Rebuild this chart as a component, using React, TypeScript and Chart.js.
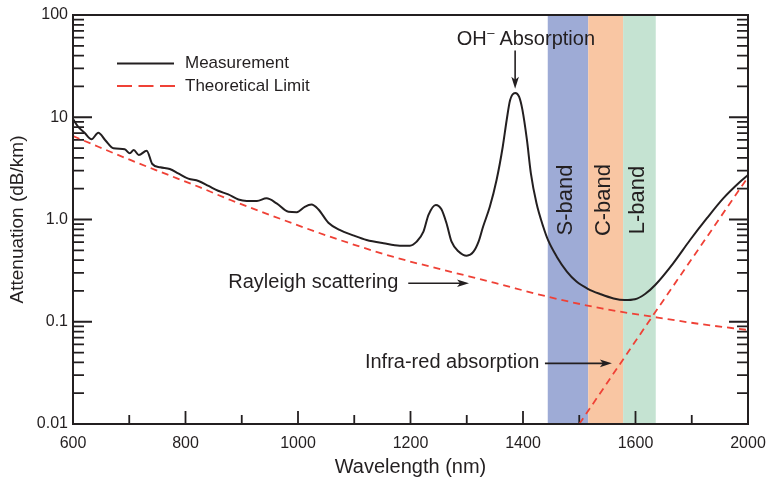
import { useEffect, useRef } from "react";
import { Chart, registerables } from "chart.js";

Chart.register(...registerables);

// ---------- data ----------
const measWavelength = [
  600, 609, 621, 633, 645, 657, 672, 692, 701, 708, 717, 731, 741, 755, 772, 787, 805, 823, 841, 858,
  876, 894, 909, 927, 944, 962, 983, 998, 1012, 1024, 1036, 1054, 1074, 1098, 1122, 1152, 1181, 1199,
  1211, 1223, 1232, 1245, 1255, 1264, 1273, 1285, 1300, 1312, 1321, 1329, 1341, 1353, 1364, 1371, 1377,
  1386, 1393, 1399, 1407, 1414, 1424, 1436, 1445, 1460, 1478, 1495, 1516, 1537, 1561, 1581, 1599, 1617,
  1635, 1667, 1697, 1727, 1756, 1786, 1800,
];
const measAttenuation = [
  9.6, 8.1, 7.0, 6.1, 7.05, 6.0, 4.97, 4.86, 4.44, 4.78, 4.27, 4.71, 3.49, 3.24, 3.12, 2.83, 2.51, 2.38,
  2.13, 1.91, 1.76, 1.57, 1.52, 1.52, 1.61, 1.44, 1.19, 1.18, 1.33, 1.4, 1.26, 0.93, 0.79, 0.7, 0.63,
  0.585, 0.555, 0.555, 0.607, 0.76, 1.11, 1.39, 1.26, 0.92, 0.607, 0.49, 0.443, 0.484, 0.607, 0.85, 1.33,
  2.43, 5.15, 9.4, 14.7, 17.3, 15.9, 11.8, 6.0, 2.83, 1.44, 0.85, 0.62, 0.433, 0.309, 0.247, 0.209, 0.187,
  0.169, 0.163, 0.166, 0.187, 0.229, 0.373, 0.63, 1.03, 1.61, 2.34, 2.72,
];
const rayleighWavelength = [600, 645, 705, 765, 825, 880, 935, 1050, 1170, 1260, 1350, 1440, 1540, 1630, 1715, 1800];
const rayleighAttenuation = [6.55, 5.15, 3.76, 2.79, 2.07, 1.55, 1.19, 0.7, 0.43, 0.32, 0.24, 0.178, 0.135, 0.112, 0.095, 0.083];
const irWavelength = [1500, 1630, 1800];
const irAttenuation = [0.01, 0.113, 2.6];

const xTickValues = [600, 800, 1000, 1200, 1400, 1600, 1800];
const xTickLabels = ["600", "800", "1000", "1200", "1400", "1600", "2000"];
const xMinorTicks = [700, 900, 1100, 1300, 1500, 1700];
const yTickValues = [0.01, 0.1, 1, 10, 100];
const yTickLabels = ["0.01", "0.1", "1.0", "10", "100"];

const bandNames = ["S-band", "C-band", "L-band"];
const bandStart = [1444, 1516, 1578];
const bandEnd = [1516, 1578, 1636];
const bandColors = ["#9eabd6", "#f9c6a3", "#c5e3d2"];

// ---------- style ----------
const FONT = "'Liberation Sans', Arial, Helvetica, sans-serif";
const INK = "#231f20";
const RED = "#ef4136";

function arrow(ctx: CanvasRenderingContext2D, x0: number, y0: number, x1: number, y1: number) {
  const ang = Math.atan2(y1 - y0, x1 - x0);
  const c = Math.cos(ang), s = Math.sin(ang);
  const hl = 12, hw = 3.8;
  ctx.beginPath();
  ctx.moveTo(x0, y0);
  ctx.lineTo(x1 - hl * 0.7 * c, y1 - hl * 0.7 * s);
  ctx.stroke();
  ctx.beginPath();
  ctx.moveTo(x1, y1);
  ctx.lineTo(x1 - hl * c + hw * s, y1 - hl * s - hw * c);
  ctx.lineTo(x1 - hl * 0.75 * c, y1 - hl * 0.75 * s);
  ctx.lineTo(x1 - hl * c - hw * s, y1 - hl * s + hw * c);
  ctx.closePath();
  ctx.fill();
}

const decor = {
  id: "decor",
  beforeDatasetsDraw(chart: any) {
    const { ctx, chartArea: a, scales } = chart;
    const x = scales.x, y = scales.y;
    ctx.save();
    bandStart.forEach((s, i) => {
      const x0 = x.getPixelForValue(s);
      const x1 = x.getPixelForValue(bandEnd[i]);
      ctx.fillStyle = bandColors[i];
      ctx.fillRect(x0, a.top, x1 - x0, a.bottom - a.top);
    });
    ctx.strokeStyle = INK;
    ctx.lineWidth = 1.8;
    ctx.beginPath();
    xTickValues.forEach((v) => {
      if (v <= 600 || v >= 1800) return;
      const px = x.getPixelForValue(v);
      ctx.moveTo(px, a.bottom);
      ctx.lineTo(px, a.bottom - 13);
    });
    xMinorTicks.forEach((v) => {
      const px = x.getPixelForValue(v);
      ctx.moveTo(px, a.bottom);
      ctx.lineTo(px, a.bottom - 9);
    });
    for (let d = 0.01; d < 200; d *= 10) {
      for (let k = 1; k <= 9; k++) {
        const v = d * k;
        if (v > 100.0001) break;
        const py = y.getPixelForValue(v);
        const len = k === 1 ? 19 : 11;
        ctx.moveTo(a.left, py);
        ctx.lineTo(a.left + len, py);
        ctx.moveTo(a.right, py);
        ctx.lineTo(a.right - len, py);
      }
    }
    ctx.stroke();
    ctx.restore();
  },
  afterDatasetsDraw(chart: any) {
    const { ctx, chartArea: a, scales } = chart;
    const x = scales.x, y = scales.y;
    ctx.save();
    // frame
    ctx.strokeStyle = INK;
    ctx.lineWidth = 2;
    ctx.strokeRect(a.left, a.top, a.right - a.left, a.bottom - a.top);

    // legend
    const lx = a.left + 44;
    const ly1 = a.top + 48.5;
    const ly2 = a.top + 71;
    ctx.lineWidth = 2;
    ctx.strokeStyle = INK;
    ctx.beginPath();
    ctx.moveTo(lx, ly1);
    ctx.lineTo(lx + 57, ly1);
    ctx.stroke();
    ctx.strokeStyle = RED;
    ctx.setLineDash([15, 6.5]);
    ctx.beginPath();
    ctx.moveTo(lx, ly2);
    ctx.lineTo(lx + 58, ly2);
    ctx.stroke();
    ctx.setLineDash([]);
    ctx.fillStyle = INK;
    ctx.font = `17px ${FONT}`;
    ctx.textAlign = "left";
    ctx.textBaseline = "middle";
    ctx.fillText("Measurement", lx + 68, ly1);
    ctx.fillText("Theoretical Limit", lx + 68, ly2);

    // band labels
    ctx.font = `22px ${FONT}`;
    ctx.textAlign = "center";
    ctx.textBaseline = "middle";
    bandNames.forEach((name, i) => {
      const cx = (x.getPixelForValue(bandStart[i]) + x.getPixelForValue(bandEnd[i])) / 2 - 2;
      const cy = y.getPixelForValue(1.55);
      ctx.save();
      ctx.translate(cx, cy);
      ctx.rotate(-Math.PI / 2);
      ctx.fillText(name, 0, 0);
      ctx.restore();
    });

    // annotations
    ctx.strokeStyle = INK;
    ctx.fillStyle = INK;
    ctx.lineWidth = 1.6;
    ctx.font = `20px ${FONT}`;
    ctx.textAlign = "left";
    ctx.textBaseline = "alphabetic";

    // OH- absorption
    const ohX = x.getPixelForValue(1386);
    const ohLeft = x.getPixelForValue(1378) - 54;
    const ohBase = y.getPixelForValue(51);
    ctx.fillText("OH", ohLeft, ohBase);
    const ohW = ctx.measureText("OH").width;
    ctx.font = `13px ${FONT}`;
    ctx.fillText("\u2013", ohLeft + ohW + 0.5, ohBase - 8);
    const supW = ctx.measureText("\u2013").width;
    ctx.font = `20px ${FONT}`;
    ctx.fillText(" Absorption", ohLeft + ohW + supW, ohBase);
    arrow(ctx, ohX, y.getPixelForValue(45), ohX, y.getPixelForValue(19));

    // Rayleigh scattering
    ctx.fillText("Rayleigh scattering", x.getPixelForValue(876), y.getPixelForValue(0.215));
    arrow(ctx, x.getPixelForValue(1196), y.getPixelForValue(0.238), x.getPixelForValue(1304), y.getPixelForValue(0.238));

    // Infra-red absorption
    ctx.fillText("Infra-red absorption", x.getPixelForValue(1119), y.getPixelForValue(0.035));
    arrow(ctx, x.getPixelForValue(1439), y.getPixelForValue(0.0392), x.getPixelForValue(1558), y.getPixelForValue(0.0392));

    ctx.restore();
  },
};

export default function App() {
  const ref = useRef<HTMLCanvasElement | null>(null);
  useEffect(() => {
    if (!ref.current) return;
    const chart = new Chart(ref.current, {
      type: "line",
      data: {
        datasets: [
          {
            label: "Measurement",
            data: measWavelength.map((w, i) => ({ x: w, y: measAttenuation[i] })),
            borderColor: INK,
            borderWidth: 2,
            pointRadius: 0,
            cubicInterpolationMode: "monotone",
            fill: false,
          },
          {
            label: "Theoretical Limit",
            data: rayleighWavelength.map((w, i) => ({ x: w, y: rayleighAttenuation[i] })),
            borderColor: RED,
            borderWidth: 1.8,
            borderDash: [7, 5],
            pointRadius: 0,
            cubicInterpolationMode: "monotone",
            fill: false,
          },
          {
            label: "Infra-red absorption",
            data: irWavelength.map((w, i) => ({ x: w, y: irAttenuation[i] })),
            borderColor: RED,
            borderWidth: 1.8,
            borderDash: [7, 5],
            pointRadius: 0,
            tension: 0,
            fill: false,
          },
        ],
      },
      options: {
        responsive: false,
        animation: false,
        layout: { padding: { top: 15, right: 18, left: 0, bottom: 0 } },
        plugins: { legend: { display: false }, tooltip: { enabled: false } },
        scales: {
          x: {
            type: "linear",
            min: 600,
            max: 1800,
            afterBuildTicks: (s: any) => {
              s.ticks = xTickValues.map((v) => ({ value: v }));
            },
            afterFit: (s: any) => {
              s.height = 57;
              s.paddingLeft = 0;
              s.paddingRight = 0;
            },
            grid: { display: false, drawTicks: false },
            border: { display: false },
            ticks: {
              autoSkip: false,
              maxRotation: 0,
              padding: 10,
              color: INK,
              font: { family: FONT, size: 16 },
              callback: (_v: any, i: number) => xTickLabels[i],
            },
            title: {
              display: true,
              text: "Wavelength (nm)",
              color: INK,
              font: { family: FONT, size: 20 },
              padding: { top: 0, bottom: 2 },
            },
          },
          y: {
            type: "logarithmic",
            min: 0.01,
            max: 100,
            afterBuildTicks: (s: any) => {
              s.ticks = yTickValues.map((v) => ({ value: v }));
            },
            afterFit: (s: any) => {
              s.width = 73;
              s.paddingTop = 0;
              s.paddingBottom = 0;
            },
            grid: { display: false, drawTicks: false },
            border: { display: false },
            ticks: {
              autoSkip: false,
              padding: 5,
              color: INK,
              font: { family: FONT, size: 16 },
              callback: (_v: any, i: number) => yTickLabels[i],
            },
            title: {
              display: true,
              text: "Attenuation (dB/km)",
              color: INK,
              font: { family: FONT, size: 19 },
              padding: { top: 6, bottom: 0 },
            },
          },
        },
      },
      plugins: [decor],
    } as any);
    return () => chart.destroy();
  }, []);
  return (
    <div style={{ position: "fixed", left: 0, top: 0, width: 766, height: 481, background: "#fff" }}>
      <canvas ref={ref} width={766} height={481} />
    </div>
  );
}
